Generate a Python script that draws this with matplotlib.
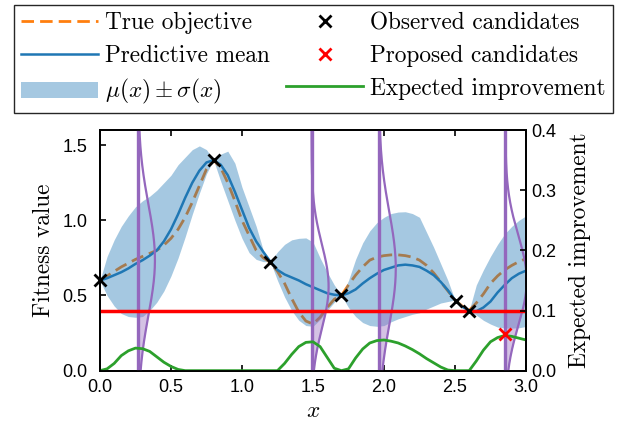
import matplotlib
matplotlib.use("Agg")
import matplotlib.pyplot as plt
import numpy as np

# ---- data ------------------------------------------------------------------
x_grid = [0.0, 0.05, 0.1, 0.15, 0.2, 0.25, 0.3, 0.35, 0.4, 0.45, 0.5, 0.55,
          0.6, 0.65, 0.7, 0.75, 0.8, 0.85, 0.9, 0.95, 1.0, 1.05, 1.1, 1.15,
          1.2, 1.25, 1.3, 1.35, 1.4, 1.45, 1.5, 1.55, 1.6, 1.65, 1.7, 1.75,
          1.8, 1.85, 1.9, 1.95, 2.0, 2.05, 2.1, 2.15, 2.2, 2.25, 2.3, 2.35,
          2.4, 2.45, 2.5, 2.55, 2.6, 2.65, 2.7, 2.75, 2.8, 2.85, 2.9, 2.95, 3.0]

true_objective = [0.60, 0.63, 0.66, 0.69, 0.715, 0.74, 0.76, 0.78, 0.80, 0.835,
                  0.88, 0.94, 1.02, 1.12, 1.23, 1.34, 1.40, 1.35, 1.25, 1.13,
                  1.00, 0.90, 0.80, 0.75, 0.72, 0.66, 0.58, 0.48, 0.39, 0.33,
                  0.31, 0.355, 0.42, 0.475, 0.50, 0.57, 0.635, 0.69, 0.735, 0.755,
                  0.765, 0.77, 0.77, 0.765, 0.755, 0.735, 0.70, 0.65, 0.59, 0.53,
                  0.47, 0.43, 0.40, 0.45, 0.51, 0.58, 0.63, 0.67, 0.70, 0.725, 0.745]

pred_mean = [0.60, 0.615, 0.635, 0.655, 0.68, 0.71, 0.735, 0.765, 0.80, 0.86,
             0.94, 1.04, 1.15, 1.25, 1.33, 1.385, 1.40, 1.37, 1.30, 1.19,
             1.07, 0.95, 0.86, 0.79, 0.725, 0.67, 0.64, 0.62, 0.60, 0.575,
             0.555, 0.535, 0.515, 0.505, 0.50, 0.515, 0.54, 0.58, 0.615, 0.645,
             0.67, 0.685, 0.70, 0.705, 0.70, 0.69, 0.665, 0.635, 0.59, 0.535,
             0.47, 0.425, 0.40, 0.395, 0.42, 0.46, 0.52, 0.57, 0.615, 0.645, 0.665]

band_upper = [0.60, 0.76, 0.87, 0.96, 1.03, 1.09, 1.13, 1.16, 1.20, 1.25,
              1.30, 1.37, 1.42, 1.47, 1.495, 1.47, 1.40, 1.44, 1.46, 1.38,
              1.22, 1.09, 0.96, 0.80, 0.725, 0.79, 0.84, 0.87, 0.88, 0.883,
              0.855, 0.75, 0.655, 0.57, 0.50, 0.60, 0.74, 0.85, 0.93, 0.985,
              1.02, 1.045, 1.055, 1.057, 1.045, 1.02, 0.92, 0.82, 0.71, 0.60,
              0.47, 0.43, 0.40, 0.57, 0.67, 0.76, 0.84, 0.91, 0.96, 1.00, 1.03]

band_lower = [0.60, 0.50, 0.43, 0.38, 0.36, 0.355, 0.36, 0.40, 0.455, 0.53,
              0.63, 0.75, 0.89, 1.04, 1.18, 1.31, 1.40, 1.26, 1.13, 1.00,
              0.88, 0.785, 0.74, 0.725, 0.725, 0.60, 0.49, 0.40, 0.335, 0.30,
              0.295, 0.34, 0.40, 0.455, 0.50, 0.42, 0.36, 0.32, 0.30, 0.295,
              0.30, 0.325, 0.345, 0.36, 0.375, 0.385, 0.41, 0.43, 0.45, 0.46,
              0.47, 0.43, 0.40, 0.37, 0.335, 0.31, 0.29, 0.283, 0.283, 0.285, 0.294]

expected_improvement = [0.0, 0.003, 0.012, 0.025, 0.033, 0.0375, 0.0365, 0.032, 0.023, 0.014,
                        0.007, 0.002, 0.0, 0.0, 0.0, 0.0, 0.0, 0.0, 0.0, 0.0,
                        0.0, 0.0, 0.0, 0.0, 0.0, 0.0, 0.012, 0.027, 0.040, 0.047,
                        0.048, 0.040, 0.022, 0.004, 0.0, 0.003, 0.021, 0.036, 0.046, 0.050,
                        0.051, 0.049, 0.046, 0.041, 0.035, 0.028, 0.020, 0.013, 0.006, 0.001,
                        0.0, 0.0, 0.0, 0.016, 0.034, 0.048, 0.055, 0.0585, 0.057, 0.054, 0.051]

obs_x = [0.0, 0.8, 1.2, 1.7, 2.51, 2.60]
obs_y = [0.60, 1.40, 0.725, 0.50, 0.465, 0.40]

prop_x = [2.855]
prop_ei = [0.061]

best_value = 0.40

# predictive distributions drawn sideways at the EI maxima
dist_x = [0.27, 1.49, 1.965, 2.855]
dist_mean = [0.737, 0.56, 0.68, 0.60]
dist_std = [0.37, 0.28, 0.38, 0.30]
dist_width = [0.117, 0.12, 0.118, 0.15]

# ---- figure ------------------------------------------------------------------
plt.rcParams["font.family"] = ["Liberation Sans", "DejaVu Sans"]
plt.rcParams["mathtext.fontset"] = "cm"
SERIF = "cmr10"
TXT = 16.8

fig = plt.figure(figsize=(6.21, 4.28), dpi=100)
ax = fig.add_axes([0.161, 0.134, 0.686, 0.562])

l_true, = ax.plot(x_grid, true_objective, color="#ff7f0e", lw=2.0, zorder=1,
                  dashes=(4.5, 2.2), label="True objective")
band = ax.fill_between(x_grid, band_lower, band_upper, color="#1f77b4", alpha=0.4,
                       lw=0, zorder=2, label=r"$\mu(x) \pm \sigma(x)$")
l_mean, = ax.plot(x_grid, pred_mean, "-", color="#1f77b4", lw=1.8, zorder=3,
                  label="Predictive mean")

yy = np.linspace(0.0, 1.6, 300)
for x0, m, s, w in zip(dist_x, dist_mean, dist_std, dist_width):
    curve = x0 + w * np.exp(-0.5 * ((yy - m) / s) ** 2)
    ax.plot(curve, yy, color="#9467bd", lw=1.6, zorder=4)
    ax.axvline(x0, color="#9467bd", lw=2.4, zorder=4)
    below = yy <= best_value
    ax.fill_betweenx(yy[below], x0, curve[below], color="#9467bd", alpha=0.4,
                     lw=0, zorder=4)

ax.axhline(best_value, color="red", lw=2.5, zorder=5)
l_obs, = ax.plot(obs_x, obs_y, "x", color="black", ms=9, mew=2, zorder=6,
                 linestyle="none", label="Observed candidates", clip_on=False)

ax.set_xlim(0, 3.0)
ax.set_ylim(0, 1.6)
ax.set_xticks(np.arange(0, 3.01, 0.5))
ax.set_yticks([0.0, 0.5, 1.0, 1.5])
ax.set_xlabel("$x$", fontsize=TXT, labelpad=2)
ax.set_ylabel("Fitness value", fontsize=TXT, family=SERIF, labelpad=5)
ax.tick_params(direction="in", top=True, length=4, width=1.2, labelsize=13)
ax.tick_params(axis="y", pad=9)
ax.tick_params(axis="x", pad=6)

ax2 = ax.twinx()
l_ei, = ax2.plot(x_grid, expected_improvement, color="#2ca02c", lw=2.0,
                 label="Expected improvement")
l_prop, = ax2.plot(prop_x, prop_ei, "x", color="red", ms=8, mew=2,
                   linestyle="none", label="Proposed candidates")
ax2.set_ylim(0, 0.4)
ax2.set_yticks([0.0, 0.1, 0.2, 0.3, 0.4])
ax2.set_ylabel("Expected improvement", fontsize=TXT, family=SERIF, labelpad=9)
ax2.tick_params(direction="in", length=4, width=1.2, labelsize=13, pad=4)

for a in (ax, ax2):
    for sp in a.spines.values():
        sp.set_linewidth(1.3)

handles = [l_true, l_mean, band, l_obs, l_prop, l_ei]
leg = fig.legend(handles, [h.get_label() for h in handles], ncol=2,
                 loc="upper center", bbox_to_anchor=(0.505, 0.988),
                 prop={"family": SERIF, "size": TXT}, fancybox=False,
                 edgecolor="0.15", framealpha=1, handlelength=3.3,
                 handletextpad=0.3, columnspacing=0.7, labelspacing=0.45,
                 borderpad=0.3, borderaxespad=0)
leg.get_frame().set_linewidth(1.0)

fig.savefig("out.png", dpi=100)
